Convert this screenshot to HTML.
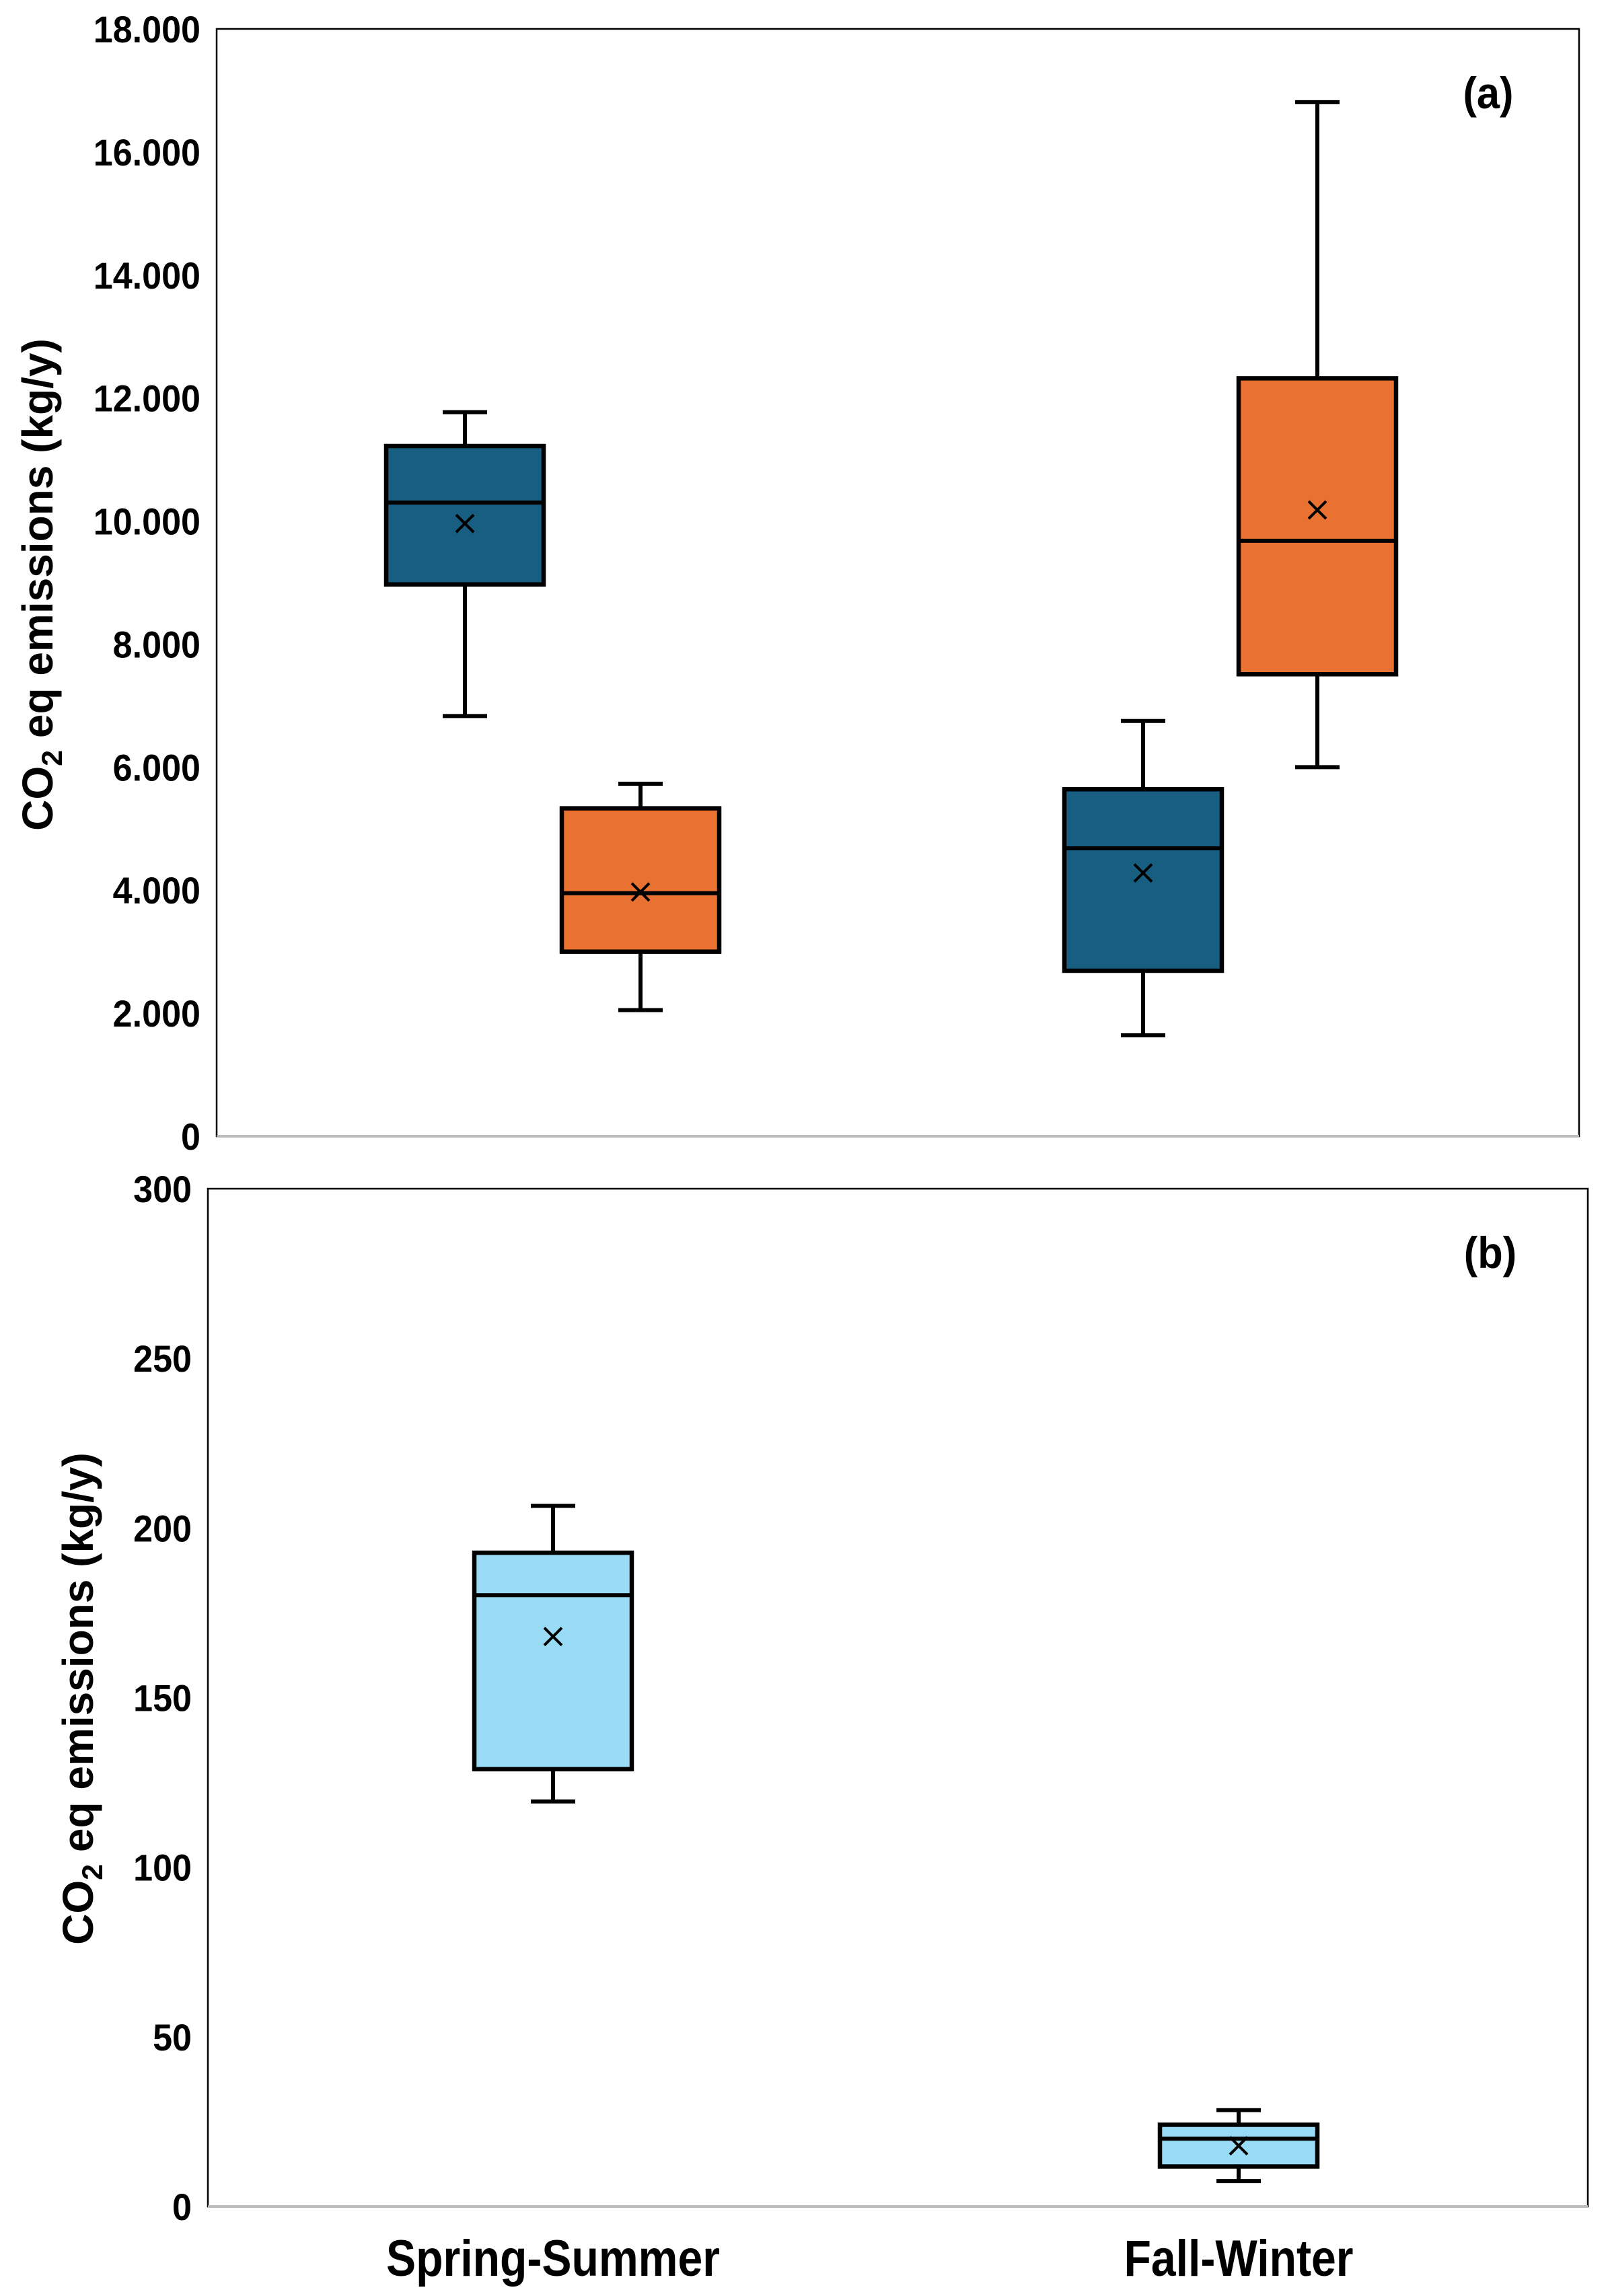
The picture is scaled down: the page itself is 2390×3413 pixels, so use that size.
<!DOCTYPE html>
<html><head><meta charset="utf-8"><style>
html,body{margin:0;padding:0;background:#fff;}
svg{display:block;}
text{font-family:"Liberation Sans",sans-serif;font-weight:bold;fill:#000;}
</style></head>
<body>
<svg id="chart" width="2390" height="3413" viewBox="0 0 2390 3413" xmlns="http://www.w3.org/2000/svg">
<rect width="2390" height="3413" fill="#fff"/>
</svg>
<script>
const categories = ["Spring-Summer", "Fall-Winter"];
// panel (a): [whiskerLow, Q1, median, Q3, whiskerHigh, mean]
const panelABlue = [[6830, 8970, 10300, 11220, 11770, 9960], [1640, 2690, 4680, 5640, 6750, 4280]];
const panelAOrange = [[2050, 3000, 3950, 5330, 5730, 3970], [6000, 7510, 9680, 12320, 16810, 10180]];
const panelATicks = ["0", "2.000", "4.000", "6.000", "8.000", "10.000", "12.000", "14.000", "16.000", "18.000"];
const panelATickValues = [0, 2000, 4000, 6000, 8000, 10000, 12000, 14000, 16000, 18000];
// panel (b)
const panelBLight = [[119.4, 128.9, 180.2, 192.7, 206.5, 168], [7.5, 11.8, 20.0, 24.1, 28.4, 17.9]];
const panelBTicks = ["0", "50", "100", "150", "200", "250", "300"];
const panelBTickValues = [0, 50, 100, 150, 200, 250, 300];

const NS = "http://www.w3.org/2000/svg";
const svg = document.getElementById("chart");
function mk(tag, attrs, parent) {
  const e = document.createElementNS(NS, tag);
  for (const k in attrs) e.setAttribute(k, attrs[k]);
  (parent || svg).appendChild(e);
  return e;
}

function panel(cfg) {
  const g = mk("g", {});
  
  
  const y = v => cfg.bottom - (v - cfg.min) / (cfg.max - cfg.min) * (cfg.bottom - cfg.top);
  const frame = mk("rect", {x: cfg.left, y: cfg.top, width: cfg.right - cfg.left, height: cfg.bottom - cfg.top, fill: "none", stroke: "#000", "stroke-width": 2.5}, g);
  
  
  const xa = mk("line", {x1: cfg.left, x2: cfg.right, y1: cfg.bottom, y2: cfg.bottom, stroke: "#bbb", "stroke-width": 4}, g);
  
  
  cfg.tickValues.forEach((v, i) => {
    const tx = cfg.left - 24;
    const t = mk("text", {x: tx, y: y(v) + 20, "text-anchor": "end", "font-size": 56, transform: `translate(${tx},0) scale(0.93,1) translate(${-tx},0)`}, g);
    t.textContent = cfg.ticks[i];
    
    
  });
  const ty = mk("text", {x: 0, y: 0, "text-anchor": "middle", "font-size": 64, transform: `translate(${cfg.titleX},${cfg.titleY}) rotate(-90)`}, g);
  
  
  ty.innerHTML = 'CO<tspan font-size="43" dy="14">2</tspan><tspan dy="-14"> eq emissions (kg/y)</tspan>';
  const lab = mk("text", {x: cfg.labelX, y: cfg.top + 118, "text-anchor": "middle", "font-size": 66, transform: `translate(${cfg.labelX},0) scale(0.93,1) translate(${-cfg.labelX},0)`}, g);
  lab.textContent = cfg.label;
  
  
  cfg.series.forEach(s => {
    s.data.forEach((d, i) => {
      const cx = s.centers[i], hw = 117, cap = 33;
      const bg = mk("g", {}, g);
      
      
      mk("line", {x1: cx, x2: cx, y1: y(d[4]), y2: y(d[3]), stroke: "#000", "stroke-width": 6}, bg);
      mk("line", {x1: cx, x2: cx, y1: y(d[1]), y2: y(d[0]), stroke: "#000", "stroke-width": 6}, bg);
      mk("line", {x1: cx - cap, x2: cx + cap, y1: y(d[4]), y2: y(d[4]), stroke: "#000", "stroke-width": 6}, bg);
      mk("line", {x1: cx - cap, x2: cx + cap, y1: y(d[0]), y2: y(d[0]), stroke: "#000", "stroke-width": 6}, bg);
      mk("rect", {x: cx - hw, y: y(d[3]), width: 2 * hw, height: y(d[1]) - y(d[3]), fill: s.color, stroke: "#000", "stroke-width": 6.5}, bg);
      mk("line", {x1: cx - hw, x2: cx + hw, y1: y(d[2]), y2: y(d[2]), stroke: "#000", "stroke-width": 6}, bg);
      const my = y(d[5]), m = 13;
      mk("path", {d: `M${cx - m},${my - m}L${cx + m},${my + m}M${cx + m},${my - m}L${cx - m},${my + m}`, stroke: "#000", "stroke-width": 4}, bg);
    });
  });
  return y;
}

panel({name: "panel-a", left: 322, right: 2347, top: 43, bottom: 1689, min: 0, max: 18000,
  ticks: panelATicks, tickValues: panelATickValues, titleX: 78, titleY: 869, label: "(a)", labelX: 2212,
  series: [
    {name: "blue-box", color: "#175E80", data: panelABlue, centers: [691, 1699]},
    {name: "orange-box", color: "#E97132", data: panelAOrange, centers: [952, 1958]}
  ]});
panel({name: "panel-b", left: 309, right: 2360, top: 1767, bottom: 3280, min: 0, max: 300,
  ticks: panelBTicks, tickValues: panelBTickValues, titleX: 138, titleY: 2525, label: "(b)", labelX: 2215,
  series: [
    {name: "light-blue-box", color: "#99DBF5", data: panelBLight, centers: [822, 1841]}
  ]});
[822, 1841].forEach((cx, i) => {
  const t = mk("text", {x: cx, y: 3383, "text-anchor": "middle", "font-size": 76, transform: `translate(${cx},0) scale(0.87,1) translate(${-cx},0)`});
  t.textContent = categories[i];
  
  
});
</script>
</body></html>
